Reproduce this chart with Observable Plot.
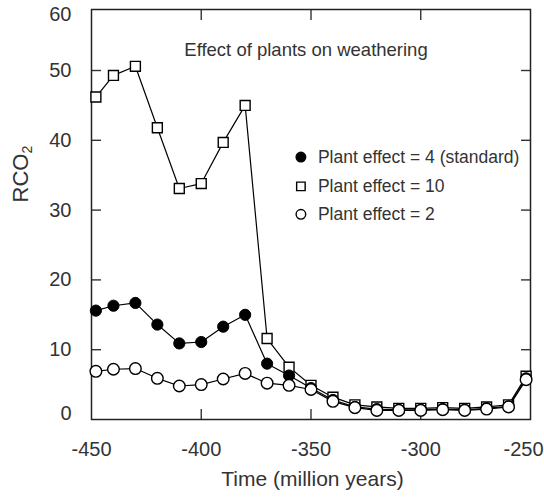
<!DOCTYPE html>
<html><head><meta charset="utf-8">
<script src="https://cdn.jsdelivr.net/npm/d3@7"></script>
<script src="https://cdn.jsdelivr.net/npm/@observablehq/plot@0.6"></script>
<style>
body{margin:0;background:#fff}
svg{font-family:"Liberation Sans",Arial,Helvetica,sans-serif}
</style>
</head><body><div id="chart"></div>
<script>
// ---- data ----
const time    = [-448,-440,-430,-420,-410,-400,-390,-380,-370,-360,-350,-340,-330,-320,-310,-300,-290,-280,-270,-260,-252];
const plant4  = [15.6,16.3,16.7,13.6,10.9,11.1,13.3,15.0,8.0,6.3,4.5,2.8,1.8,1.5,1.4,1.4,1.5,1.4,1.6,1.9,5.9];
const plant10 = [46.2,49.3,50.6,41.8,33.1,33.8,39.7,45.0,11.6,7.5,4.9,3.2,2.1,1.8,1.6,1.6,1.7,1.6,1.8,2.1,6.2];
const plant2  = [6.9,7.2,7.3,5.9,4.8,5.0,5.8,6.6,5.2,4.9,4.3,2.6,1.7,1.3,1.3,1.3,1.4,1.3,1.5,1.8,5.7];
const seriesNames = ["Plant effect = 4 (standard)", "Plant effect = 10", "Plant effect = 2"];
const xTicks = [-450,-400,-350,-300,-250];
const yTicks = [0,10,20,30,40,50];
const yTopLabel = "60";
const titleText = "Effect of plants on weathering";
const xLabel = "Time (million years)";
const yLabel = "RCO2";

// ---- layout ----
const W = 544, H = 500;
const mL = 91, mR = 14, mT = 9, mB = 81;
const yTop = 58.74; // value at the frame's top edge (labelled "60" in the original)
const ink = "#333";

const rows = (vals, name) => time.map((t, i) => ({t, v: vals[i], name}));
const d10 = rows(plant10, seriesNames[1]);
const d4 = rows(plant4, seriesNames[0]);
const d2 = rows(plant2, seriesNames[2]);

// legend (placed in data space, inside the frame)
const legendX = -354.6;
const legendY = [37.6, 33.4, 29.4];
const legend = seriesNames.map((name, i) => ({name, y: legendY[i]}));
const symbolOf = {[seriesNames[0]]: "circle", [seriesNames[1]]: "square", [seriesNames[2]]: "circle"};
const fillOf = {[seriesNames[0]]: "black", [seriesNames[1]]: "white", [seriesNames[2]]: "white"};

const noText = () => "";
const yLab = {tickSize: 0, tickPadding: 20, fontSize: 20, fill: ink, label: null};
const xLab = {tickSize: 0, tickPadding: 22, fontSize: 20, fill: ink, label: null, tickFormat: d => String(d)};
const tickStyle = {tickSize: -10, tickFormat: noText, label: null, stroke: ink, strokeWidth: 1.4};

const chart = Plot.plot({
  width: W, height: H,
  marginLeft: mL, marginRight: mR, marginTop: mT, marginBottom: mB,
  style: {fontFamily: '"Liberation Sans", Arial, sans-serif', background: "white"},
  x: {domain: [-450, -250]},
  y: {domain: [0, yTop]},
  marks: [
    // tick labels
    Plot.axisY({...yLab, ticks: yTicks.slice(1), tickFormat: d => String(d)}),
    Plot.axisY({...yLab, ticks: [0], dy: -6, tickFormat: d => String(d)}),
    Plot.axisY({...yLab, ticks: [yTop], dy: 5, tickFormat: () => yTopLabel}),
    Plot.axisX({...xLab, ticks: xTicks.slice(0, -1)}),
    Plot.axisX({...xLab, ticks: xTicks.slice(-1), dx: -7}),
    // inward tick marks on all four sides
    Plot.axisY({...tickStyle, ticks: yTicks.slice(1)}),
    Plot.axisY({...tickStyle, anchor: "right", ticks: yTicks.slice(1)}),
    Plot.axisX({...tickStyle, ticks: xTicks.slice(1, -1)}),
    Plot.axisX({...tickStyle, anchor: "top", ticks: xTicks.slice(1, -1)}),
    Plot.frame({stroke: "#222", strokeWidth: 1.5}),
    // series
    Plot.line(d10, {x: "t", y: "v", stroke: "black", strokeWidth: 1.2}),
    Plot.dot(d10, {x: "t", y: "v", symbol: "square", r: 5.6, fill: "white", stroke: "black", strokeWidth: 1.4}),
    Plot.line(d4, {x: "t", y: "v", stroke: "black", strokeWidth: 1.2}),
    Plot.dot(d4, {x: "t", y: "v", symbol: "circle", r: 5.6, fill: "black", stroke: "black", strokeWidth: 1}),
    Plot.line(d2, {x: "t", y: "v", stroke: "black", strokeWidth: 1.2}),
    Plot.dot(d2, {x: "t", y: "v", symbol: "circle", r: 5.8, fill: "white", stroke: "black", strokeWidth: 1.4}),
    // legend
    Plot.dot(legend, {x: () => legendX, y: "y", symbol: d => symbolOf[d.name], fill: d => fillOf[d.name],
      r: 4.8, stroke: "black", strokeWidth: 1.4}),
    Plot.text(legend, {x: () => legendX, y: "y", text: "name", dx: 17, textAnchor: "start", fontSize: 17.5, fill: ink}),
    // title and axis labels
    Plot.text([titleText], {frameAnchor: "top", dx: -5, dy: 33, fontSize: 18.5, fill: ink}),
    Plot.text([xLabel], {frameAnchor: "bottom", dx: 1.5, dy: 66, fontSize: 21, fill: ink}),
    Plot.text([yLabel], {frameAnchor: "left", dx: -71, dy: -12, rotate: -90, fontSize: 22, fill: ink})
  ]
});
document.getElementById("chart").appendChild(chart);

// subscript the 2 in RCO2
d3.select(chart).selectAll("text").filter(function() { return this.textContent === yLabel; })
  .each(function() {
    const t = d3.select(this);
    t.text("");
    t.append("tspan").text(yLabel.slice(0, 3));
    t.append("tspan").attr("font-size", 14).attr("dy", "0.35em").text(yLabel.slice(3));
  });
</script>
</body></html>
